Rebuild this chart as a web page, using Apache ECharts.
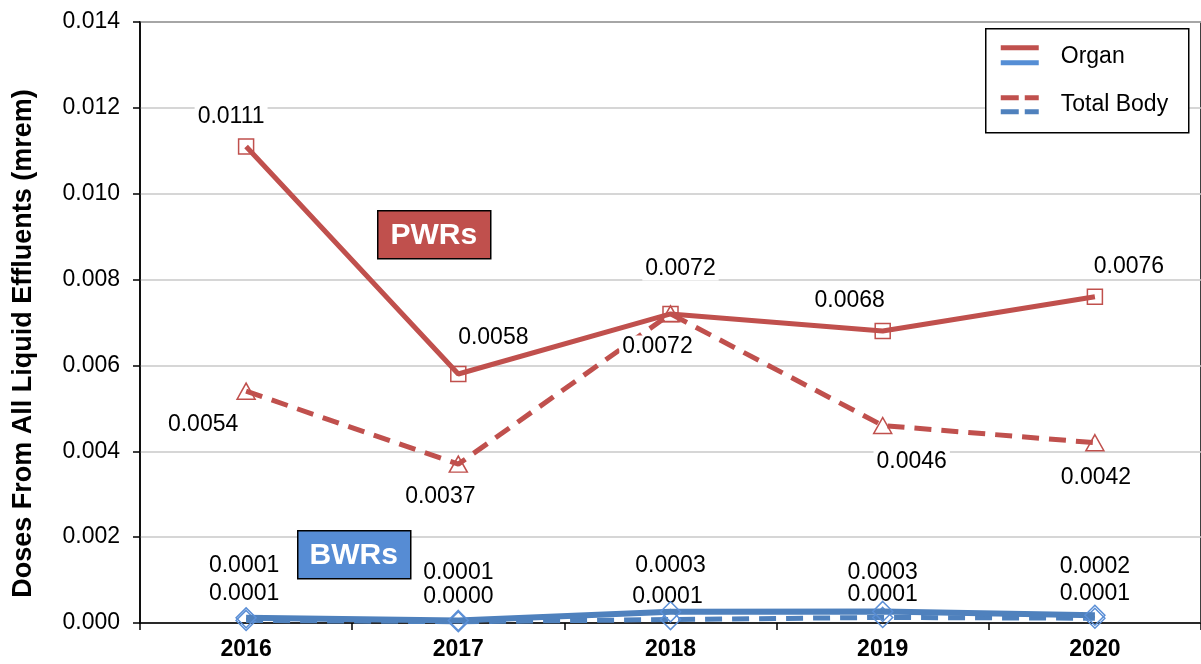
<!DOCTYPE html>
<html lang="en">
<head>
<meta charset="UTF-8">
<title>Liquid effluent doses</title>
<style>
  html, body { margin: 0; padding: 0; background: #fff; }
  #chart { width: 1201px; height: 664px; }
</style>
</head>
<body>
<div id="chart"></div>
<script src="https://cdn.jsdelivr.net/npm/echarts@6/dist/echarts.min.js"></script>
<script>
// data
var years = ['2016', '2017', '2018', '2019', '2020'];
var pwrOrgan = [0.0111, 0.0058, 0.0072, 0.0068, 0.0076];
var pwrTotalBody = [0.0054, 0.0037, 0.0072, 0.0046, 0.0042];
var bwrOrgan = [0.00012, 0.00006, 0.00026, 0.00027, 0.00018];
var bwrTotalBody = [0.00006, 0.00003, 0.00008, 0.00013, 0.00011];

// label nudges (pixels) so the labels sit where the original has them
var pwrOrganOff = [[-15, -30], [35, -36], [10, -45], [-33, -30], [34, -30]];
var pwrTbOff = [[-43, 33], [-18, 32], [-13, 33], [29, 36], [1, 35]];
var bwrOrganOff = [[-2, -52], [0, -48], [0, -46], [0, -39], [0, -49]];
var bwrTbOff = [[-2, -27], [0, -25], [-3, -23], [0, -23], [0, -25]];

var RED = '#C0504D';
var BLUE = '#4F81BD';
var FONT = 'Liberation Sans, Arial, sans-serif';

function withLabels(values, offs) {
  return values.map(function (v, i) {
    return { value: v, label: { offset: offs[i] } };
  });
}

function labelStyle() {
  return {
    show: true,
    position: 'inside',
    formatter: function (p) { return p.value.toFixed(4); },
    fontFamily: FONT,
    fontSize: 23,
    color: '#000',
    backgroundColor: '#fff',
    padding: [0, 3]
  };
}

function makeSeries(name, values, offs, color, dashed, symbol, width, z) {
  var size = 15;
  if (symbol === 'triangle') size = [18, 16];
  if (symbol === 'diamond') size = 20;
  return {
    name: name,
    type: 'line',
    data: withLabels(values, offs),
    symbol: symbol,
    symbolSize: size,
    showAllSymbol: true,
    lineStyle: { color: color, width: width, type: dashed ? [17, 10] : 'solid', cap: 'butt' },
    itemStyle: { color: 'rgba(255,255,255,0)', borderColor: color === BLUE ? '#5B8FD6' : color, borderWidth: 1.5 },
    label: labelStyle(),
    emphasis: { disabled: true },
    z: z
  };
}

var chart = echarts.init(document.getElementById('chart'));

var option = {
  animation: false,
  textStyle: { fontFamily: FONT },
  grid: {
    left: 140, right: -5, top: 22, bottom: 41,
    show: true, borderColor: '#000', borderWidth: 1.5
  },
  xAxis: {
    type: 'category',
    data: years,
    boundaryGap: true,
    axisLine: { lineStyle: { color: '#000', width: 1.5 } },
    axisTick: { show: true, length: 7, lineStyle: { color: '#000', width: 1.5 } },
    axisLabel: { color: '#000', fontSize: 23, fontWeight: 'bold', fontFamily: FONT, margin: 15 },
    splitLine: { show: false }
  },
  yAxis: {
    type: 'value',
    min: 0, max: 0.014, interval: 0.002,
    name: 'Doses From All Liquid Effluents (mrem)',
    nameLocation: 'middle',
    nameGap: 103,
    nameTextStyle: { color: '#000', fontSize: 27, fontWeight: 'bold', fontFamily: FONT, padding: [0, 42, 0, 0] },
    axisLine: { show: true, lineStyle: { color: '#000', width: 1.5 } },
    axisTick: { show: true, length: 7, lineStyle: { color: '#000', width: 1.5 } },
    axisLabel: {
      color: '#000', fontSize: 23, fontFamily: FONT, margin: 20,
      formatter: function (v) { return v.toFixed(3); }
    },
    splitLine: { lineStyle: { color: '#C8C8C8', width: 1.5 } }
  },
  series: [
    makeSeries('PWR Organ', pwrOrgan, pwrOrganOff, RED, false, 'rect', 5, 4),
    makeSeries('PWR Total Body', pwrTotalBody, pwrTbOff, RED, true, 'triangle', 5, 3),
    makeSeries('BWR Organ', bwrOrgan, bwrOrganOff, BLUE, false, 'diamond', 6, 4),
    makeSeries('BWR Total Body', bwrTotalBody, bwrTbOff, BLUE, true, 'diamond', 5, 3)
  ],
  graphic: [
    // PWRs tag
    { type: 'group', left: 377, top: 210, children: [
      { type: 'rect', z: 50, shape: { x: 0, y: 0, width: 113, height: 48 },
        style: { fill: RED, stroke: '#000', lineWidth: 1.5 } },
      { type: 'text', z: 51, x: 56, y: 25, style: { text: 'PWRs', fill: '#fff', font: 'bold 30px ' + FONT, align: 'center', verticalAlign: 'middle' } }
    ] },
    // BWRs tag
    { type: 'group', left: 297, top: 530, children: [
      { type: 'rect', z: 50, shape: { x: 0, y: 0, width: 113, height: 48 },
        style: { fill: '#568CD4', stroke: '#000', lineWidth: 1.5 } },
      { type: 'text', z: 51, x: 56, y: 25, style: { text: 'BWRs', fill: '#fff', font: 'bold 30px ' + FONT, align: 'center', verticalAlign: 'middle' } }
    ] },
    // legend box
    { type: 'group', left: 985, top: 28, children: [
      { type: 'rect', z: 100, shape: { x: 0, y: 0, width: 203, height: 104 },
        style: { fill: '#fff', stroke: '#000', lineWidth: 1.5 } },
      { type: 'line', z: 101, shape: { x1: 15, y1: 19, x2: 53, y2: 19 }, style: { stroke: RED, lineWidth: 5 } },
      { type: 'line', z: 101, shape: { x1: 15, y1: 34, x2: 53, y2: 34 }, style: { stroke: '#558ED5', lineWidth: 5 } },
      { type: 'text', z: 101, x: 75, y: 28, style: { text: 'Organ', fill: '#000', font: '23px ' + FONT, verticalAlign: 'middle' } },
      { type: 'line', z: 101, shape: { x1: 15, y1: 69, x2: 53, y2: 69 }, style: { stroke: RED, lineWidth: 5, lineDash: [18, 6] } },
      { type: 'line', z: 101, shape: { x1: 15, y1: 83, x2: 53, y2: 83 }, style: { stroke: BLUE, lineWidth: 5, lineDash: [18, 6] } },
      { type: 'text', z: 101, x: 75, y: 76, style: { text: 'Total Body', fill: '#000', font: '23px ' + FONT, verticalAlign: 'middle' } }
    ] }
  ]
};

chart.setOption(option);
</script>
</body>
</html>
